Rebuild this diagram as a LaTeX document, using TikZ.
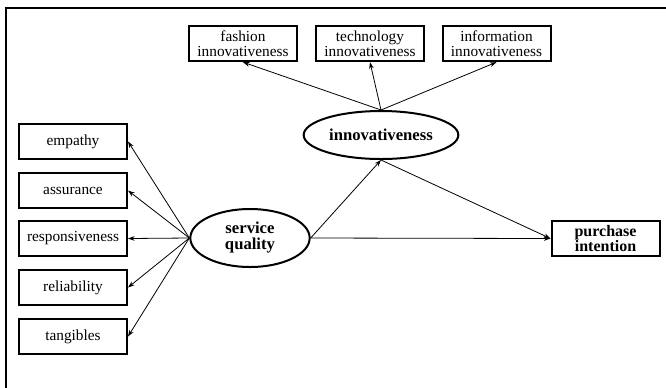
\documentclass[tikz,border=0pt]{standalone}
\usepackage{fontspec}
\setmainfont{Liberation Serif}
\usetikzlibrary{arrows.meta,shapes.geometric}
\begin{document}
\begin{tikzpicture}[x=0.75pt,y=-0.75pt,
  txt/.style={font=\fontsize{11.5}{11}\selectfont, align=center, inner sep=1pt},
  obox/.style={txt, draw, line width=1.5pt, minimum width=81pt, minimum height=26.5pt},
  lat/.style={txt, draw, ellipse, line width=1.5pt, font=\fontsize{12.5}{12}\selectfont\bfseries, inner sep=0pt},
  arr/.style={-{Stealth[length=5pt,width=3.5pt]}, line width=0.6pt}]
\useasboundingbox (0,0) rectangle (666,387);
\draw[line width=1.5pt] (6,8) rectangle (680,400);
% top indicators
\node[obox] (fash) at (243,43.5) {fashion\\innovativeness};
\node[obox] (tech) at (370,43.5) {technology\\innovativeness};
\node[obox] (info) at (496.5,43.5) {information\\innovativeness};
% left indicators
\node[obox] (emp) at (73,141.5) {empathy};
\node[obox] (ass) at (73,190.5) {assurance};
\node[obox] (resp) at (73,238.5) {responsiveness};
\node[obox] (rel) at (73,287.5) {reliability};
\node[obox] (tang) at (73,336.5) {tangibles};
% latents
\node[lat, minimum width=116pt, minimum height=36pt] (inn) at (381,135) {innovativeness};
\node[lat, minimum width=89.5pt, minimum height=43.5pt] (sq) at (250,238) {service\\quality};
\node[obox, font=\fontsize{12}{11.5}\selectfont\bfseries] (pi) at (605.5,238.5) {purchase\\intention};
% arrows
\foreach \t in {emp,ass,resp,rel,tang}
  \draw[arr] (sq.west) -- (\t.east);
\draw[arr] (inn.north) -- (fash.south);
\draw[arr] (inn.north) -- (tech.south);
\draw[arr] (inn.north) -- (info.south);
\draw[arr] (sq.east) -- (inn.south);
\draw[arr] (inn.south) -- (pi.west);
\draw[arr] (sq.east) -- (pi.west);
\end{tikzpicture}
\end{document}
